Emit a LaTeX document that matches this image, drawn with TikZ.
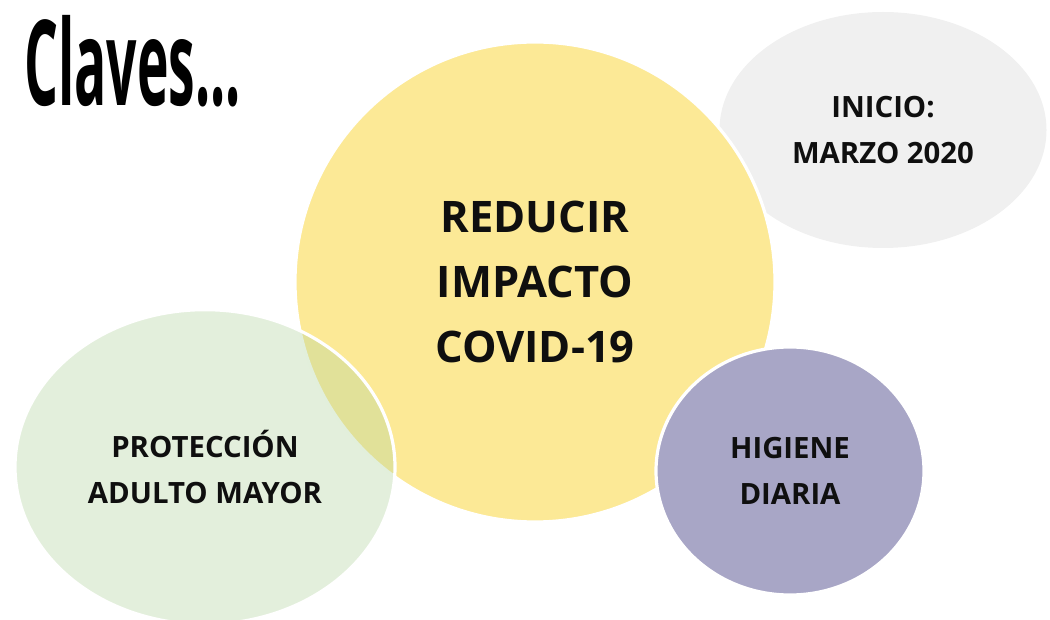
\documentclass[tikz,border=0pt]{standalone}
\usepackage{fontspec}
\setmainfont{Open Sans}
\newfontfamily\titlefont{Open Sans}
\usetikzlibrary{shapes.geometric}
\definecolor{cyellow}{RGB}{252,233,150}
\definecolor{cgreen}{RGB}{179,212,160}
\definecolor{cgrey}{RGB}{240,240,240}
\definecolor{cpurple}{RGB}{168,166,198}
\definecolor{ctext}{RGB}{15,15,15}
\tikzset{
  blob/.style={ellipse, inner sep=0pt, align=center, text=ctext, draw=white, line width=2.4pt},
  bigtxt/.style={font=\fontsize{32.6pt}{48.75pt}\selectfont\bfseries},
  smalltxt/.style={font=\fontsize{22pt}{34.5pt}\selectfont\bfseries},
}
\begin{document}
\begin{tikzpicture}[x=0.75pt,y=-0.75pt]
\useasboundingbox (0,0) rectangle (1050,620);
\node[blob, draw=none, fill=cgrey, smalltxt, minimum width=245.25pt, minimum height=177pt] (inicio) at (883,130) {INICIO:\\MARZO 2020};
\node[blob, fill=cyellow, bigtxt, minimum width=360pt, minimum height=360pt] (reducir) at (535,282) {REDUCIR\\IMPACTO\\COVID-19};
\node[blob, fill=cgreen, fill opacity=0.37, text opacity=1, smalltxt, minimum width=285pt, minimum height=236pt] (adulto) at (205,467) {PROTECCIÓN\\ADULTO MAYOR};
\node[blob, fill=cpurple, smalltxt, minimum width=201pt, minimum height=186pt] (higiene) at (790,471) {HIGIENE\\DIARIA};
\node[anchor=base west, inner sep=0pt, font=\titlefont\bfseries\fontsize{89pt}{89pt}\selectfont] (title) at (24,106) {\scalebox{0.45}[1]{Claves...}};
\end{tikzpicture}
\end{document}
